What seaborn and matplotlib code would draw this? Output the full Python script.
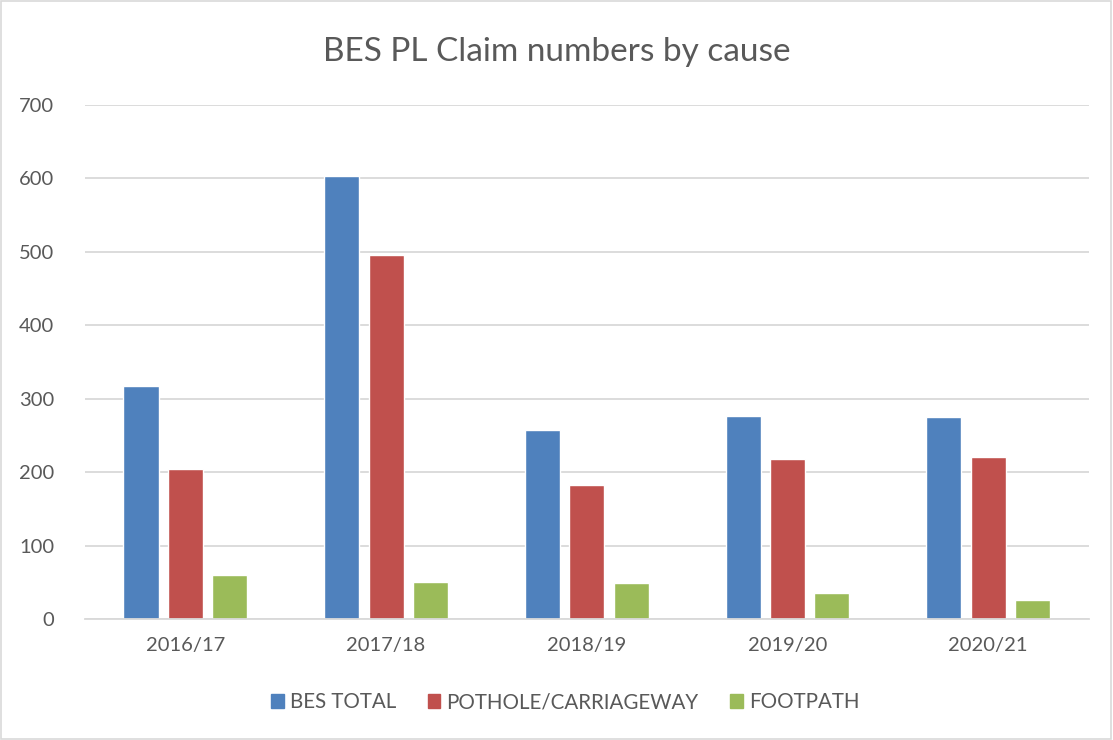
import matplotlib
matplotlib.use("Agg")
import matplotlib.pyplot as plt
import matplotlib.patches as mpatches
import pandas as pd
import seaborn as sns

years = ["2016/17", "2017/18", "2018/19", "2019/20", "2020/21"]
bes_total = [318, 603, 257, 276, 275]
pothole = [204, 496, 183, 218, 221]
footpath = [60, 51, 49, 36, 26]
series = ["BES TOTAL", "POTHOLE/CARRIAGEWAY", "FOOTPATH"]
colors = ["#4F81BD", "#C0504D", "#9BBB59"]

df = pd.DataFrame({
    "year": years * 3,
    "cause": [series[0]] * 5 + [series[1]] * 5 + [series[2]] * 5,
    "claims": bes_total + pothole + footpath,
})

sns.set_style("white")
plt.rcParams["font.family"] = ["Lato", "DejaVu Sans"]
txt = "#595959"
grid = "#D9D9D9"

fig = plt.figure(figsize=(11.13, 7.4), dpi=100)
ax = fig.add_axes([0.0764, 0.1635, 0.9016, 0.6945])

sns.barplot(data=df, x="year", y="claims", hue="cause", palette=colors,
            width=0.664, gap=0.21, ax=ax, legend=False, saturation=1)

ax.set_ylim(0, 700)
ax.set_xlim(-0.5, 4.5)
ax.set_yticks(range(0, 701, 100))
ax.yaxis.grid(True, color=grid, linewidth=1.3)
ax.set_axisbelow(True)
for s in ["top", "right", "left"]:
    ax.spines[s].set_visible(False)
ax.spines["bottom"].set_color(grid)
ax.spines["bottom"].set_linewidth(1.3)
ax.tick_params(axis="both", length=0, labelsize=14.5, colors=txt)
ax.tick_params(axis="x", pad=13)
ax.tick_params(axis="y", pad=22)
ax.set_xlabel("")
ax.set_ylabel("")

fig.suptitle("BES PL Claim numbers by cause", y=0.95, fontsize=24, color=txt)

handles = [mpatches.Patch(color=c, label=l) for c, l in zip(colors, series)]
fig.legend(handles=handles, loc="center", bbox_to_anchor=(0.508, 0.051), ncol=3,
           frameon=False, fontsize=14.8, labelcolor=txt, handlelength=0.6,
           handleheight=0.6, handletextpad=0.3, columnspacing=1.55)

fig.add_artist(mpatches.Rectangle((0.001, 0.001), 0.997, 0.997, transform=fig.transFigure,
                                  fill=False, edgecolor=grid, linewidth=1.2))

fig.savefig("out.png", dpi=100)
